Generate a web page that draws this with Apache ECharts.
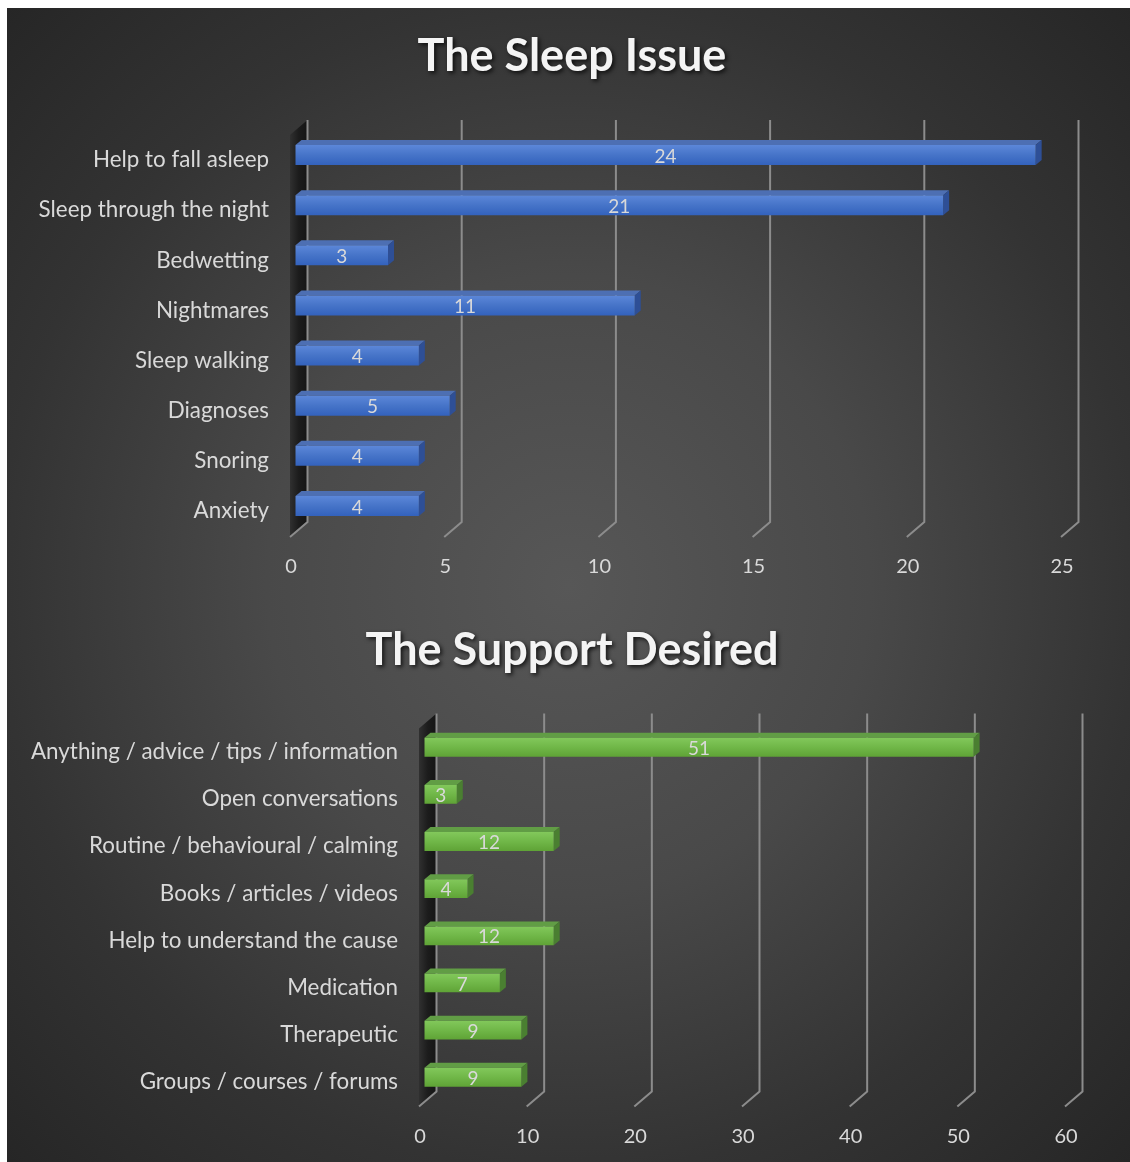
<!DOCTYPE html>
<html>
<head>
<meta charset="utf-8">
<script src="https://cdn.jsdelivr.net/npm/echarts@6/dist/echarts.min.js"></script>
<style>
  html, body { margin: 0; padding: 0; background: #ffffff; width: 1130px; height: 1162px; overflow: hidden; }
  #panel {
    position: absolute; left: 7px; top: 8px; width: 1123px; height: 1154px;
    background: radial-gradient(ellipse at 50% 50%, #575757 0%, #494949 38%, #333333 72%, #262626 100%);
  }
  #chart { position: absolute; left: 0; top: 0; width: 1130px; height: 1162px; }
</style>
</head>
<body>
<div id="panel"></div>
<div id="chart"></div>
<script>
// Survey answers: what sleep issue families reported, and what support they wanted
const sleepIssues = ['Help to fall asleep', 'Sleep through the night', 'Bedwetting', 'Nightmares',
  'Sleep walking', 'Diagnoses', 'Snoring', 'Anxiety'];
const sleepCounts = [24, 21, 3, 11, 4, 5, 4, 4];
const sleepTicks = [0, 5, 10, 15, 20, 25];

const supportTypes = ['Anything / advice / tips / information', 'Open conversations',
  'Routine / behavioural / calming', 'Books / articles / videos', 'Help to understand the cause',
  'Medication', 'Therapeutic', 'Groups / courses / forums'];
const supportCounts = [51, 3, 12, 4, 12, 7, 9, 9];
const supportTicks = [0, 10, 20, 30, 40, 50, 60];

const FONT = 'Lato, "Open Sans", sans-serif';
const TEXT = '#d9d9d9';
const DEPTH_X = 6, DEPTH_Y = 5;

const palettes = {
  blue: { front: ['#5c87d9', '#4674c8', '#3362bd'], top: '#4d6fb3', side: '#2e4f96' },
  green: { front: ['#82c85b', '#70b748', '#5fa336'], top: '#619d45', side: '#4a7f31' }
};

// 3D-looking bar: front face, top face and right side face
function barItem(pal) {
  return function (params, api) {
    const v = api.value(0);
    const c0 = api.coord([0, api.value(1)]);
    const c1 = api.coord([v, api.value(1)]);
    const band = api.size([0, 1])[1];
    const h = band * 0.4;
    const bottom = c0[1] + band * 0.1;
    const top = bottom - h;
    const x0 = c0[0] + 4.5, x1 = c1[0] + 4.5;
    return {
      type: 'group',
      children: [
        { type: 'polygon', shape: { points: [[x0, top], [x1, top], [x1 + DEPTH_X, top - DEPTH_Y], [x0 + DEPTH_X, top - DEPTH_Y]] },
          style: { fill: pal.top } },
        { type: 'polygon', shape: { points: [[x1, top], [x1 + DEPTH_X, top - DEPTH_Y], [x1 + DEPTH_X, bottom - DEPTH_Y], [x1, bottom]] },
          style: { fill: pal.side } },
        { type: 'rect', shape: { x: x0, y: top, width: x1 - x0, height: h },
          style: { fill: new echarts.graphic.LinearGradient(0, 0, 0, 1, [
            { offset: 0, color: pal.front[0] }, { offset: 0.5, color: pal.front[1] }, { offset: 1, color: pal.front[2] }]) } },
        { type: 'text', style: { text: String(v), x: (x0 + x1) / 2, y: top + h / 2 + 1.5, align: 'center', verticalAlign: 'middle',
          fill: TEXT, fontSize: 19, fontFamily: FONT } }
      ]
    };
  };
}

// gridline that runs up the back wall and bends down to the floor edge
function gridItem(params, api) {
  const cs = params.coordSys;
  const px = api.coord([api.value(0), 0])[0];
  const gTop = cs.y, gBot = cs.y + cs.height;
  return {
    type: 'polyline',
    shape: { points: [[px + 16.5, gTop - 15], [px + 16.5, gBot - 14], [px - 1, gBot + 1]] },
    style: { stroke: '#8c8c8c', lineWidth: 2, fill: null }
  };
}

// dark side wall at the start of the value axis
function wallItem(params, api) {
  const cs = params.coordSys;
  const px = api.coord([0, 0])[0];
  const gTop = cs.y, gBot = cs.y + cs.height;
  return {
    type: 'polygon',
    shape: { points: [[px + 16.5, gTop - 15], [px + 16.5, gBot - 14], [px - 1, gBot + 1], [px - 1, gTop]] },
    style: { fill: new echarts.graphic.LinearGradient(0, 0, 1, 0, [
      { offset: 0, color: '#303030' }, { offset: 0.5, color: '#1c1c1c' }, { offset: 1, color: '#151515' }]) }
  };
}

function valueAxis(gridIndex, ticks) {
  return {
    type: 'value', gridIndex: gridIndex, min: ticks[0], max: ticks[ticks.length - 1],
    interval: ticks[1] - ticks[0],
    axisLine: { show: false }, axisTick: { show: false }, splitLine: { show: false },
    axisLabel: { color: TEXT, fontSize: 20, fontFamily: FONT, margin: 21 }
  };
}
function categoryAxis(gridIndex, cats) {
  return {
    type: 'category', gridIndex: gridIndex, data: cats, inverse: true,
    axisLine: { show: false }, axisTick: { show: false }, splitLine: { show: false },
    axisLabel: { color: TEXT, fontSize: 22.4, fontFamily: FONT, margin: 22 }
  };
}
function titleText(text, y) {
  return {
    type: 'text', x: 572, y: y,
    style: { text: text, align: 'center', verticalAlign: 'middle', fill: '#f4f4f4',
      fontSize: 45, fontWeight: 'bold', fontFamily: FONT,
      textShadowColor: 'rgba(0,0,0,0.75)', textShadowBlur: 4, textShadowOffsetX: 2, textShadowOffsetY: 2 }
  };
}

const chart = echarts.init(document.getElementById('chart'), null, { renderer: 'canvas' });
chart.setOption({
  backgroundColor: 'transparent',
  animation: false,
  graphic: [titleText('The Sleep Issue', 56), titleText('The Support Desired', 650)],
  grid: [
    { left: 291, top: 135, width: 771, height: 401 },
    { left: 420, top: 728.4, width: 646, height: 377.1 }
  ],
  xAxis: [valueAxis(0, sleepTicks), valueAxis(1, supportTicks)],
  yAxis: [categoryAxis(0, sleepIssues), categoryAxis(1, supportTypes)],
  series: [
    { type: 'custom', xAxisIndex: 0, yAxisIndex: 0, z: 1, renderItem: wallItem, data: [[0, 0]] },
    { type: 'custom', xAxisIndex: 0, yAxisIndex: 0, z: 2, renderItem: gridItem, data: sleepTicks.map(t => [t, 0]) },
    { type: 'custom', xAxisIndex: 0, yAxisIndex: 0, z: 3, renderItem: barItem(palettes.blue),
      data: sleepCounts.map((v, i) => [v, sleepIssues[i]]) },
    { type: 'custom', xAxisIndex: 1, yAxisIndex: 1, z: 1, renderItem: wallItem, data: [[0, 0]] },
    { type: 'custom', xAxisIndex: 1, yAxisIndex: 1, z: 2, renderItem: gridItem, data: supportTicks.map(t => [t, 0]) },
    { type: 'custom', xAxisIndex: 1, yAxisIndex: 1, z: 3, renderItem: barItem(palettes.green),
      data: supportCounts.map((v, i) => [v, supportTypes[i]]) }
  ]
});
</script>
</body>
</html>
